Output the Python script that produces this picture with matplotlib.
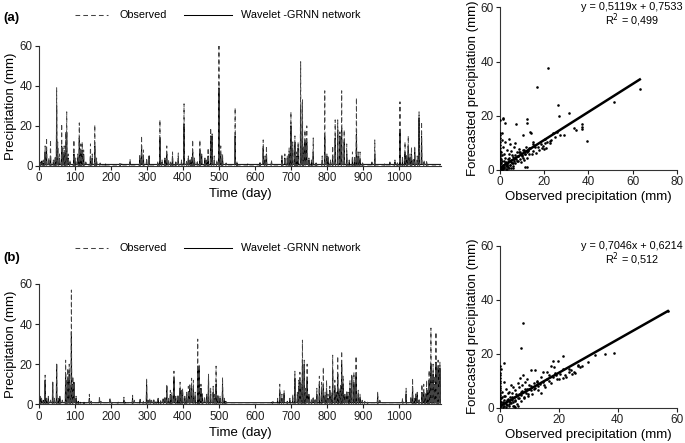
import numpy as np
import matplotlib
matplotlib.use("Agg")
import matplotlib.pyplot as plt
from matplotlib.lines import Line2D

plt.rcParams['font.family'] = ['Liberation Sans', 'DejaVu Sans']

# ---------------- data ----------------
n_days = 1117
dry_forecast = 0.8  # forecast level on dry days (mm)

# Panel (a): event days, observed and Wavelet-GRNN forecast (mm)
a_days = [3, 8, 12, 17, 21, 27, 32, 40, 45, 49, 52, 57, 63, 66, 70, 74, 77, 81, 86, 97,
          102, 108, 112, 116, 120, 124, 130, 143, 148, 155, 160, 170, 185, 225, 230, 253, 280, 285, 290, 299,
          306, 330, 336, 342, 350, 355, 360, 366, 371, 380, 387, 396, 403, 410, 415, 420, 424, 427, 432, 440,
          447, 452, 461, 466, 470, 477, 481, 487, 494, 500, 505, 510, 520, 545, 550, 580, 614, 623, 628, 632,
          646, 675, 683, 690, 695, 700, 705, 711, 716, 720, 727, 732, 735, 739, 744, 750, 757, 762, 770, 787,
          794, 800, 804, 810, 816, 823, 830, 836, 841, 848, 855, 862, 871, 877, 882, 887, 892, 899, 925, 933,
          960, 975, 989, 996, 1003, 1010, 1017, 1022, 1026, 1031, 1035, 1040, 1044, 1051, 1056, 1063, 1070, 1077]
a_obs = [2.5, 1.5, 3, 10, 14, 4, 13, 3, 5, 39, 12, 6, 21, 9, 10, 17, 27, 6, 3, 13,
         4, 6, 21.5, 11, 12, 8, 2, 11, 6, 20.5, 4, 1.5, 1, 1, 0.5, 3.5, 6, 15, 8, 4,
         5, 2, 23, 3, 4, 10, 3, 2, 7, 2, 6.5, 3, 31, 3, 5, 3, 5, 13, 4, 2,
         13, 6, 4, 3, 9, 19, 16, 5, 3, 61, 10, 6, 1.5, 29, 2, 0.5, 2, 13, 5, 10,
         3, 6, 6, 5, 9, 27, 12, 15, 7, 12, 52, 33, 10, 18, 20, 4, 3, 14, 2, 5,
         37.5, 6, 5, 3, 10, 23, 23, 17, 37.5, 18, 11, 3, 7, 5, 34, 7, 7, 2, 2, 13,
         1, 2, 3, 2, 32, 5, 12, 6, 15, 6, 9.5, 4, 10, 5, 27, 22, 3, 2.5]
a_fc = [2, 2.5, 1.5, 7, 8, 3, 5, 2, 3, 30, 9, 4, 10, 7, 6, 10, 17, 4, 2, 6,
        2, 4, 14, 8, 8, 6, 1.5, 5, 4, 10, 2, 1.2, 1, 1.2, 1, 2, 4, 10, 5, 3,
        5, 1.5, 14, 2, 3, 6, 2, 1.5, 5, 2, 4, 2, 21, 2, 4, 3, 4, 7, 3, 2,
        8, 5, 3, 2, 5, 15, 15, 3, 2, 39, 6, 4, 1.2, 15, 1.5, 1, 1.5, 9, 3, 6,
        2, 3, 4, 4, 6, 20, 8, 12, 5, 9, 30, 22, 8, 12, 12, 3, 2, 7, 1.5, 3,
        15, 5, 4, 2, 5, 14, 18, 15, 19, 12, 6, 2, 4, 3, 16, 5, 3, 1.5, 1.5, 6,
        1, 1.5, 2, 1.5, 18, 3, 7, 4, 10, 4, 6, 3, 7, 3, 24, 15, 2, 2]

# Panel (b)
b_days = [3, 7, 12, 17, 21, 26, 32, 38, 43, 49, 54, 58, 65, 74, 77, 80, 84, 87, 90, 94,
          97, 103, 109, 115, 125, 140, 145, 168, 172, 197, 202, 220, 236, 240, 260, 265, 281, 290, 299, 303,
          308, 313, 319, 325, 331, 338, 345, 350, 355, 360, 365, 369, 375, 380, 386, 392, 396, 399, 405, 410,
          415, 419, 424, 429, 434, 441, 445, 450, 454, 460, 466, 471, 477, 484, 488, 492, 497, 503, 510, 515,
          519, 646, 650, 663, 669, 675, 681, 690, 697, 705, 711, 718, 722, 725, 729, 732, 737, 741, 745, 750,
          757, 762, 767, 772, 779, 785, 790, 795, 799, 803, 808, 812, 816, 822, 826, 830, 834, 838, 841, 845,
          850, 855, 859, 864, 869, 875, 881, 887, 892, 898, 905, 913, 941, 947, 1010, 1020, 1033, 1038, 1043, 1047,
          1051, 1056, 1064, 1069, 1073, 1077, 1081, 1084, 1089, 1092, 1095, 1099, 1103, 1106, 1109, 1112, 1114]
b_obs = [4, 3, 2, 14.5, 3, 4, 2, 11, 3, 20.5, 3, 4, 2, 22, 12, 18, 20, 10, 57, 14,
         11, 4, 1.5, 1, 1.5, 5, 1.5, 4, 1.5, 3.5, 1, 1, 3.5, 1, 4.5, 2, 2.5, 1.5, 13, 2,
         3, 2, 2.5, 1.5, 3, 2, 3, 4, 10, 3, 7, 6, 16.5, 4, 5, 11, 7, 8, 4, 6,
         9, 10.5, 13, 12, 6, 32.5, 20, 10, 6, 4, 5, 15, 8, 9, 5, 19, 5, 4, 13.5, 3,
         2, 1, 1.5, 3, 10, 5, 7, 2, 3, 5, 16.5, 6, 12, 16, 10, 32, 22, 8, 20, 5,
         3, 4, 3, 8, 14, 11, 18.5, 6, 12, 5, 9, 6, 24.5, 12, 6, 24, 8, 10, 26.5, 14,
         5, 7, 6, 12, 14.5, 16, 24, 7, 5, 2, 1.5, 1, 6.5, 2, 3, 8, 4, 13, 3, 6,
         6, 3, 10, 10, 6, 12, 7, 17, 38, 15, 20, 14, 36, 10, 22, 8, 21]
b_fc = [3, 3, 2, 12, 3, 3, 2, 11, 2, 20, 2, 3, 2, 15, 8, 12, 15, 8, 36, 10,
        11, 3, 1.5, 1, 1, 3, 1.2, 2, 1, 2, 1, 1, 2, 1, 3, 1.5, 2, 1, 10, 2,
        2, 1.5, 2, 1.2, 2.5, 1.5, 2.5, 3, 9, 2, 5, 4, 13, 3, 4, 8, 6, 6, 3, 5,
        6, 8, 9, 8, 4, 19, 18, 8, 5, 3, 4, 14, 5, 6, 3, 10, 4, 3, 10, 2,
        1.5, 1, 1.2, 2, 6, 3, 5, 1.5, 2, 3, 13, 5, 9, 11, 8, 22, 20, 6, 12, 4,
        2, 3, 2, 5, 10, 8, 10, 4, 8, 3, 7, 4, 17, 8, 5, 15, 6, 8, 20, 10,
        4, 5, 4, 8, 14, 10, 14, 5, 3, 1.5, 1.2, 1, 4, 1.5, 2, 5, 3, 9, 2, 4,
        5, 2, 6, 6, 4, 8, 6, 12, 20, 12, 15, 10, 21, 8, 18, 6, 18]

# Scatter (a): observed vs forecasted (mm)
sa_obs = [21.9, 16.9, 63.3, 51.8, 26.4, 26.8, 31.2, 33.6, 34.2, 36.9, 37.3, 37.2, 39.2, 29.1, 27.0, 26.0,
          22.5, 23.2, 22.8, 20.4, 18.9, 19.8, 21.0, 12.1, 12.1, 7.2, 2.3, 1.3, 0.2, 13.6, 14.2, 10.6,
          11.3, 12.0, 15.0, 14.8, 16.0, 13.0, 12.5, 11.0, 11.5, 10.0, 10.5, 9.0, 8.0, 7.5, 6.5, 6.0,
          5.5, 5.0, 4.5, 4.0, 3.5, 3.0, 2.5, 2.0, 1.5, 1.0, 0.5, 0.0,
          0, 0, 0, 0, 0, 0, 0, 0, 0, 0, 0, 0, 0, 0, 0, 0,
          0.3, 0.4, 0.5, 0.6, 0.8, 0.9, 1.0, 1.1, 1.2, 1.3, 1.5, 1.6, 1.8, 2.0, 2.1, 2.2,
          2.4, 2.6, 2.8, 3.0, 3.2, 3.3, 3.5, 3.8, 4.0, 4.2, 4.4, 4.6, 4.8, 5.0, 5.2, 5.5,
          5.8, 6.0, 6.2, 6.5, 6.8, 7.0, 7.3, 7.6, 8.0, 8.3, 8.6, 9.0, 9.3, 9.6, 10.0, 10.4,
          10.8, 11.2, 11.6, 12.0, 12.4, 12.8, 13.2, 13.8, 14.4, 15.0, 15.6, 16.2, 17.0, 17.8, 18.6, 19.4,
          20.5, 21.5, 24.0, 25.0, 0.5, 1.5, 2.5, 4.0, 6.0, 3.0, 1.5, 4.1, 0.7, 0.7, 6.8, 8.8]
sa_fc = [37.6, 30.6, 30.0, 25.0, 23.8, 19.8, 21.2, 15.5, 14.6, 16.8, 15.8, 15.0, 10.6, 12.8, 12.8, 13.9,
         10.8, 11.2, 10.0, 9.8, 8.1, 7.6, 8.0, 18.8, 17.2, 17.0, 17.4, 18.7, 18.3, 14.1, 13.6, 12.9,
         1.0, 1.0, 9.5, 10.3, 8.5, 8.0, 7.0, 7.5, 6.0, 5.5, 4.5, 6.5, 5.0, 3.5, 4.0, 2.5,
         5.5, 3.0, 2.0, 4.5, 3.0, 1.5, 2.5, 1.0, 2.0, 1.5, 1.0, 0.8,
         0.5, 1.0, 1.5, 2.2, 3.0, 3.8, 4.5, 5.2, 6.0, 7.0, 8.0, 9.2, 10.5, 11.8, 12.8, 13.5,
         0.8, 2.5, 4.0, 6.5, 1.2, 3.2, 0.5, 5.5, 2.0, 8.5, 1.0, 3.5, 6.0, 0.6, 2.6, 4.5,
         10.5, 1.4, 3.0, 7.5, 0.5, 2.2, 4.2, 1.2, 3.3, 5.8, 9.5, 2.0, 0.6, 3.8, 7.0, 2.6,
         4.8, 1.5, 3.2, 8.5, 5.5, 2.5, 4.0, 6.5, 3.2, 5.0, 7.8, 4.2, 2.8, 6.0, 5.0, 7.2,
         3.8, 5.8, 8.5, 6.5, 4.5, 7.5, 6.0, 8.2, 5.8, 7.0, 9.0, 6.2, 8.5, 7.2, 9.5, 8.8,
         11.5, 10.5, 13.5, 12.0, 0.3, 0.4, 0.3, 0.8, 0.6, 1.8, 19.0, 11.3, 13.7, 11.1, 9.8, 6.7]
# trend line as drawn in the picture (x from 0 to largest observed value)
sa_line_x = [0.0, 63.3]
sa_line_y = [0.75, 33.4]

# Scatter (b)
sb_obs = [7.7, 7.1, 1.5, 0.0, 0.3, 21.5, 19.8, 18.1, 32.3, 35.5, 38.8, 57.0, 17.2, 18.3, 14.7, 15.8,
          10.4, 11.9, 6.8, 7.9, 23.3, 23.3, 24.5, 25.6, 22.2, 21.5, 26.5, 27.0, 20.0, 19.0, 16.5, 15.0,
          14.0, 13.0, 12.5, 11.5, 10.5, 10.0, 9.5, 9.0, 8.5, 8.0, 7.5, 7.0, 6.5, 6.0, 5.5, 5.0,
          4.5, 4.0, 3.5, 3.0, 2.5, 2.0, 1.5, 1.0, 0.5,
          0, 0, 0, 0, 0, 0, 0, 0, 0, 0, 0, 0, 0, 0, 0, 0,
          0.3, 0.5, 0.7, 0.8, 1.0, 1.2, 1.4, 1.5, 1.7, 2.0, 2.2, 2.4, 2.6, 2.8, 3.0, 3.2,
          3.4, 3.6, 3.8, 4.0, 4.2, 4.4, 4.6, 4.8, 5.0, 5.2, 5.5, 5.8, 6.0, 6.3, 6.6, 7.0,
          7.3, 7.6, 8.0, 8.4, 8.8, 9.2, 9.6, 10.0, 10.5, 11.0, 11.5, 12.0, 12.5, 13.0, 13.5, 14.0,
          14.5, 15.2, 15.8, 16.5, 17.2, 18.0, 18.8, 19.5, 20.5, 21.5, 22.5, 24.0, 25.0, 26.5, 28.0, 30.0,
          4.5, 5.0, 2.0, 1.0, 3.0, 6.0]
sb_fc = [31.5, 22.0, 16.4, 15.6, 14.5, 19.1, 17.4, 17.4, 19.5, 19.8, 20.1, 36.0, 15.6, 15.2, 13.3, 13.3,
         14.0, 14.0, 11.0, 12.0, 14.5, 13.3, 12.6, 12.8, 12.0, 11.0, 15.5, 15.0, 10.5, 12.0, 10.0, 8.5,
         5.5, 8.0, 9.5, 7.0, 6.5, 8.5, 5.0, 10.5, 7.0, 4.0, 8.5, 6.0, 3.5, 9.0, 5.0, 2.5,
         7.5, 4.0, 2.0, 6.0, 3.0, 1.5, 4.5, 2.0, 3.5,
         0.3, 1.0, 1.8, 2.5, 3.3, 4.0, 4.8, 5.6, 6.5, 7.3, 8.2, 9.0, 10.0, 11.0, 12.0, 13.0,
         0.6, 2.0, 3.8, 6.0, 1.2, 2.8, 9.5, 0.5, 4.5, 2.0, 7.0, 1.0, 3.4, 5.3, 0.8, 2.4,
         4.0, 8.5, 1.6, 3.0, 5.5, 2.2, 0.6, 3.8, 6.5, 2.8, 4.5, 1.5, 3.5, 5.2, 7.8, 2.6,
         4.8, 6.2, 3.6, 9.5, 5.5, 7.0, 4.2, 6.8, 8.2, 5.2, 9.0, 7.2, 10.0, 6.5, 8.8, 11.2,
         9.5, 7.8, 10.5, 12.0, 9.2, 11.5, 13.0, 10.8, 12.5, 14.2, 11.5, 14.0, 13.2, 15.8, 15.5, 17.0,
         0.8, 0.4, 0.2, 0.3, 1.2, 0.5]
sb_line_x = [0.0, 57.0]
sb_line_y = [0.6, 35.8]

# ---------------- figure ----------------
fig = plt.figure(figsize=(6.85, 4.43), dpi=100)
W, H = 685.0, 443.0

def fax(l, t, r, b):
    return fig.add_axes([l / W, 1 - b / H, (r - l) / W, (b - t) / H])

def style(ax, lsize):
    for s in ('top', 'right'):
        ax.spines[s].set_visible(False)
    for s in ('left', 'bottom'):
        ax.spines[s].set_linewidth(0.8)
        ax.spines[s].set_color('#333333')
    ax.tick_params(direction='out', length=3, width=0.8, labelsize=lsize, pad=1.5, colors='#222222')

def series(day_list, val_list, base):
    y = np.full(n_days, base, dtype=float)
    y[np.array(day_list)] = val_list
    return y

days = np.arange(n_days)
ts_boxes = [(39, 45.7, 441, 166), (39, 284.0, 441, 404.3)]
ts_data = [(a_days, a_obs, a_fc), (b_days, b_obs, b_fc)]
labels = ['(a)', '(b)']
leg_y = [15, 248]
lab_y = [18, 258]

for i in range(2):
    ax = fax(*ts_boxes[i])
    dd, oo, ff = ts_data[i]
    obs = series(dd, oo, 0.0)
    fc = series(dd, ff, dry_forecast)
    ax.plot(days, fc, color='black', lw=0.7)
    ax.plot(days, obs, color='#444444', lw=0.7, dashes=(4.5, 3))
    ax.set_xlim(0, n_days)
    ax.set_ylim(0, 60)
    ax.set_xticks(np.arange(0, 1001, 100))
    ax.set_yticks([0, 20, 40, 60])
    style(ax, 8.3)
    ax.set_xlabel('Time (day)', fontsize=9.5, labelpad=3)
    ax.set_ylabel('Precipitation (mm)', fontsize=9.5, labelpad=2)
    # legend above the panel
    ly = 1 - leg_y[i] / H
    fig.add_artist(Line2D([75 / W, 108 / W], [ly, ly], color='#444444', lw=0.75, dashes=(4.5, 3)))
    fig.text(120 / W, ly, 'Observed', fontsize=7.8, va='center', ha='left')
    fig.add_artist(Line2D([184 / W, 232 / W], [ly, ly], color='black', lw=0.75))
    fig.text(241 / W, ly, 'Wavelet -GRNN network', fontsize=7.8, va='center', ha='left')
    fig.text(3 / W, 1 - lab_y[i] / H, labels[i], fontsize=9.5, fontweight='bold', va='center', ha='left')

sc_boxes = [(500, 7.3, 676.7, 170), (500, 245.7, 676.7, 407.7)]
sc_data = [(sa_obs, sa_fc, sa_line_x, sa_line_y, 80, [0, 20, 40, 60, 80],
            'y = 0,5119x + 0,7533', '0,499'),
           (sb_obs, sb_fc, sb_line_x, sb_line_y, 60, [0, 20, 40, 60],
            'y = 0,7046x + 0,6214', '0,512')]
eq_y = [7, 245.7]
r2_y = [20, 259]

for i in range(2):
    ax = fax(*sc_boxes[i])
    so, sf, lx, lyv, xmax, xt, eq, r2 = sc_data[i]
    ax.scatter(so, sf, s=3.5, color='black', linewidths=0, zorder=3)
    ax.plot(lx, lyv, color='black', lw=1.8, zorder=4)
    ax.set_xlim(0, xmax)
    ax.set_ylim(0, 60)
    ax.set_xticks(xt)
    ax.set_yticks([0, 20, 40, 60])
    style(ax, 8.5)
    ax.set_xlabel('Observed precipitation (mm)', fontsize=9.5, labelpad=2)
    ax.set_ylabel('Forecasted precipitation (mm)', fontsize=9.5, labelpad=1)
    fig.text(683 / W, 1 - eq_y[i] / H, eq, fontsize=7.8, ha='right', va='center')
    fig.text(632 / W, 1 - r2_y[i] / H, 'R$^2$ = ' + r2, fontsize=7.8, ha='center', va='center')

fig.savefig('out.png', dpi=100)
